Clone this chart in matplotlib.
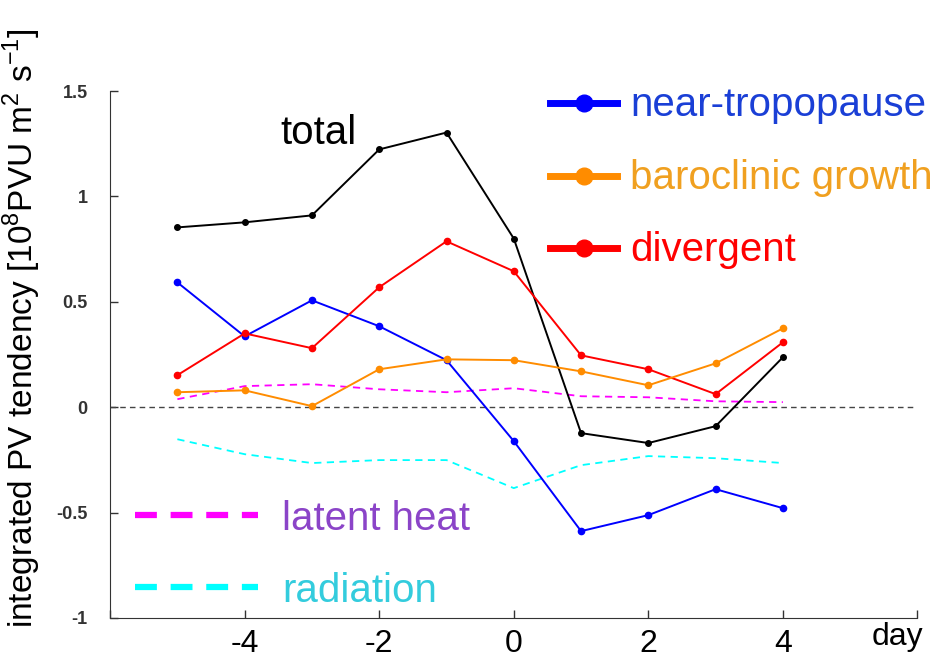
import matplotlib
matplotlib.use("Agg")
import matplotlib.pyplot as plt

plt.rcParams['font.family'] = ['Liberation Sans', 'DejaVu Sans']
plt.rcParams['mathtext.fontset'] = 'custom'
plt.rcParams['mathtext.rm'] = 'Liberation Sans'

days = [-5, -4, -3, -2, -1, 0, 1, 2, 3, 4]
total = [0.853, 0.877, 0.91, 1.223, 1.303, 0.80, -0.123, -0.17, -0.09, 0.237]
near_trop = [0.592, 0.336, 0.507, 0.384, 0.223, -0.161, -0.588, -0.512, -0.389, -0.479]
baroclinic = [0.071, 0.08, 0.005, 0.18, 0.227, 0.223, 0.17, 0.104, 0.208, 0.374]
divergent = [0.152, 0.35, 0.28, 0.569, 0.787, 0.645, 0.246, 0.18, 0.062, 0.308]
latent = [0.038, 0.10, 0.109, 0.085, 0.071, 0.09, 0.052, 0.047, 0.028, 0.024]
radiation = [-0.152, -0.223, -0.265, -0.251, -0.251, -0.384, -0.275, -0.232, -0.242, -0.265]

xticks = [-6, -4, -2, 0, 2, 4, 6]
xticklabels = ['', '-4', '-2', '0', '2', '4', '']
yticks = [-1, -0.5, 0, 0.5, 1, 1.5]
yticklabels = ['-1', '-0.5', '0', '0.5', '1', '1.5']

fig = plt.figure(figsize=(9.41, 6.62), dpi=100)
ax = fig.add_axes([0.117, 0.0665, 0.858, 0.796])

ax.axhline(0, color='#444444', lw=1, ls=(0, (4, 3)))
ax.plot(days, latent, color='#ff00ff', lw=1.3, ls=(0, (4, 3)))
ax.plot(days, radiation, color='#00ffff', lw=1.3, ls=(0, (4, 3)))
ax.plot(days, total, color='black', lw=1.4, marker='o', ms=4)
ax.plot(days, near_trop, color='#0000ff', lw=1.4, marker='o', ms=4.5)
ax.plot(days, divergent, color='#ff0000', lw=1.4, marker='o', ms=4.5)
ax.plot(days, baroclinic, color='#ff8c00', lw=1.4, marker='o', ms=4.5)

ax.set_xlim(-6, 6)
ax.set_ylim(-1, 1.5)
ax.set_xticks(xticks)
ax.set_xticklabels(xticklabels, fontsize=23)
ax.set_yticks(yticks)
ax.set_yticklabels(yticklabels, fontsize=13, fontweight='bold', color='#333333')
ax.tick_params(direction='in', length=6, color='#333333', width=1)
ax.tick_params(axis='x', pad=8)
ax.tick_params(axis='y', pad=16)
for s in ['top', 'right']:
    ax.spines[s].set_visible(False)
for s in ['left', 'bottom']:
    ax.spines[s].set_color('#333333')

ax.set_ylabel(r'integrated PV tendency [10$^8$PVU m$^2$ s$^{\mathrm{-1}}$]', fontsize=24)
ax.yaxis.set_label_coords(-0.083, 0.55)
ax.text(0.975, -0.036, 'day', transform=ax.transAxes, fontsize=23, ha='center', va='center')

ax.text(0.211, 0.92, 'total', transform=ax.transAxes, fontsize=29, va='center')

# legend-like labels
leg = [('near-tropopause', '#0000ff', '#1a3fd6', 0.977),
       ('baroclinic growth', '#ff8c00', '#f0a020', 0.839),
       ('divergent', '#ff0000', '#ff0000', 0.702)]
for name, lc, tc, yy in leg:
    ax.plot([0.545, 0.628], [yy, yy], transform=ax.transAxes, color=lc, lw=5, clip_on=False)
    ax.plot([0.5865], [yy], transform=ax.transAxes, color=lc, marker='o', ms=12, clip_on=False)
    ax.text(0.644, yy - 0.004, name, transform=ax.transAxes, color=tc, fontsize=29, va='center', clip_on=False)

leg2 = [('latent heat', '#ff00ff', '#8b44c8', 0.195),
        ('radiation', '#00ffff', '#33ccdd', 0.059)]
for name, lc, tc, yy in leg2:
    ax.plot([0.031, 0.183], [yy, yy], transform=ax.transAxes, color=lc, lw=4.5, ls=(0, (3.5, 2.2)), clip_on=False)
    ax.text(0.213, yy - 0.008, name, transform=ax.transAxes, color=tc, fontsize=29, va='center')

fig.savefig('out.png', dpi=100)
